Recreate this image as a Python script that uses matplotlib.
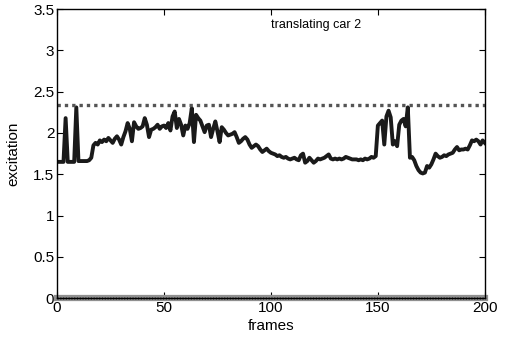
import numpy as np
import matplotlib
matplotlib.use("Agg")
import matplotlib.pyplot as plt

plt.rcParams["font.family"] = ["Liberation Sans", "DejaVu Sans"]

# excitation per frame (frames 1..200)
excitation = [
    1.65, 1.65, 1.65, 2.18, 1.65, 1.65, 1.65, 1.65, 2.31, 1.66,
    1.66, 1.66, 1.66, 1.66, 1.67, 1.70, 1.85, 1.88, 1.86, 1.91,
    1.89, 1.92, 1.90, 1.94, 1.91, 1.88, 1.93, 1.96, 1.92, 1.86,
    1.95, 2.02, 2.12, 2.05, 1.90, 2.13, 2.08, 2.05, 2.06, 2.08,
    2.18, 2.10, 1.95, 2.04, 2.05, 2.07, 2.10, 2.05, 2.08, 2.09,
    2.06, 2.12, 2.03, 2.20, 2.26, 2.06, 2.17, 2.10, 1.97, 2.09,
    2.05, 2.12, 2.30, 1.89, 2.22, 2.18, 2.15, 2.08, 2.01, 2.09,
    2.10, 1.95, 2.05, 2.14, 2.02, 1.89, 2.07, 2.04, 2.00, 1.97,
    1.98, 1.99, 2.01, 1.95, 1.88, 1.90, 1.93, 1.95, 1.92, 1.86,
    1.82, 1.84, 1.86, 1.84, 1.80, 1.77, 1.79, 1.81, 1.78, 1.76,
    1.75, 1.74, 1.72, 1.73, 1.71, 1.70, 1.71, 1.69, 1.68, 1.69,
    1.70, 1.68, 1.67, 1.73, 1.75, 1.64, 1.66, 1.70, 1.67, 1.64,
    1.66, 1.69, 1.68, 1.69, 1.70, 1.72, 1.74, 1.69, 1.68, 1.69,
    1.68, 1.69, 1.68, 1.69, 1.71, 1.70, 1.69, 1.68, 1.68, 1.68,
    1.67, 1.68, 1.67, 1.69, 1.68, 1.69, 1.71, 1.70, 1.72, 2.09,
    2.12, 2.15, 1.86, 2.20, 2.27, 2.19, 1.86, 1.90, 1.84, 2.10,
    2.15, 2.17, 2.08, 2.31, 1.70, 1.71, 1.67, 1.60, 1.55, 1.52,
    1.51, 1.52, 1.60, 1.58, 1.62, 1.68, 1.75, 1.72, 1.70, 1.71,
    1.73, 1.72, 1.74, 1.75, 1.76, 1.80, 1.83, 1.79, 1.80, 1.80,
    1.81, 1.80, 1.85, 1.91, 1.90, 1.92, 1.90, 1.86, 1.91, 1.88,
]
frames = np.arange(1, len(excitation) + 1)
threshold = 2.34
baseline = 0.0

fig = plt.figure(figsize=(5.05, 3.38), dpi=100)
ax = fig.add_axes([0.113, 0.118, 0.847, 0.855])

ax.plot(frames, excitation, color="#1a1a1a", lw=2.8, solid_joinstyle="round")
ax.axhline(threshold, color="#555555", lw=2.4, linestyle=(0, (1, 1.2)))
# zero-level band along the bottom axis
ax.plot([0, 200], [baseline, baseline], color="#909090", lw=4.5, clip_on=False)
ax.plot([0, 200], [baseline, baseline], color="#4a4a4a", lw=2.0,
        linestyle=(0, (0.4, 0.6)), clip_on=False)

ax.set_xlim(0, 200)
ax.set_ylim(0, 3.5)
ax.set_xticks([0, 50, 100, 150, 200])
ax.set_yticks([0, 0.5, 1, 1.5, 2, 2.5, 3, 3.5])
ax.set_yticklabels(["0", "0.5", "1", "1.5", "2", "2.5", "3", "3.5"])
ax.tick_params(direction="in", top=True, right=True, length=4, width=0.8,
               labelsize=11, pad=2)
for s in ax.spines.values():
    s.set_linewidth(1.0)

ax.set_xlabel("frames", fontsize=11, labelpad=3)
ax.set_ylabel("excitation", fontsize=11, labelpad=9)
ax.text(100, 3.27, "translating car 2", fontsize=9)

fig.savefig("out.png", dpi=100)
